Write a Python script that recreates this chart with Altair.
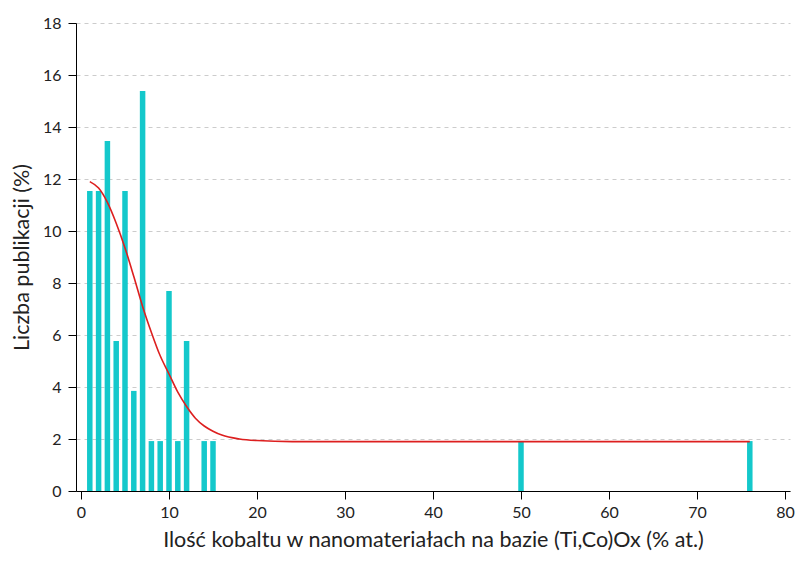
import altair as alt
import pandas as pd

# Bar data
cobalt = [1, 2, 3, 4, 5, 6, 7, 8, 9, 10, 11, 12, 14, 15, 50, 76]
share = [11.54, 11.54, 13.46, 5.77, 11.54, 3.85, 15.38, 1.92, 1.92, 7.69,
         1.92, 5.77, 1.92, 1.92, 1.92, 1.92]

# Red fit curve
curve_x = [1, 2, 3, 4, 5, 6, 7, 8, 9, 10, 11, 12, 13, 14, 15, 16, 18, 20, 24, 30, 76]
curve_y = [11.9, 11.65, 11.1, 10.3, 9.35, 8.25, 7.1, 6.1, 5.2, 4.5, 3.8, 3.25,
           2.8, 2.5, 2.3, 2.15, 2.0, 1.94, 1.9, 1.9, 1.9]

x_ticks = [0, 10, 20, 30, 40, 50, 60, 70, 80]
y_ticks = [0, 2, 4, 6, 8, 10, 12, 14, 16, 18]

bars_df = pd.DataFrame({"x": cobalt, "y": share})
curve_df = pd.DataFrame({"x": curve_x, "y": curve_y})

FONT = "Lato"

xscale = alt.Scale(domain=[0, 80], nice=False, zero=False)
yscale = alt.Scale(domain=[0, 18], nice=False)

xaxis = alt.Axis(values=x_ticks, title="Ilość kobaltu w nanomateriałach na bazie (Ti,Co)Ox (% at.)",
                 grid=False, domainColor="#000", tickColor="#000", tickSize=8,
                 labelPadding=5, labelFontSize=16, labelColor="#222", titleFontSize=21.5,
                 titleFontWeight="normal", titleColor="#222", titlePadding=9,
                 labelFont=FONT, titleFont=FONT, labelFlush=False)
yaxis = alt.Axis(values=y_ticks, title="Liczba publikacji (%)",
                 grid=True, gridDash=[4, 4], gridColor="#cccccc",
                 domainColor="#000", tickColor="#000", tickSize=8, labelPadding=7,
                 labelFontSize=16, labelColor="#222", titleFontSize=21.5,
                 titleFontWeight="normal", titleColor="#222", titlePadding=9,
                 labelFont=FONT, titleFont=FONT)

bars = alt.Chart(bars_df).mark_bar(color="#14C8CB", size=5.5).encode(
    x=alt.X("x:Q", scale=xscale, axis=xaxis),
    y=alt.Y("y:Q", scale=yscale, axis=yaxis),
)

line = alt.Chart(curve_df).mark_line(color="#DD1F1F", strokeWidth=1.6,
                                      interpolate="monotone").encode(
    x=alt.X("x:Q", scale=xscale),
    y=alt.Y("y:Q", scale=yscale),
)

chart = (bars + line).properties(
    width=714, height=468,
    autosize=alt.AutoSizeParams(type="none"),
    padding={"left": 68, "top": 15, "right": 10, "bottom": 60},
).configure_view(stroke=None)

chart.save("out.html", embed_options={"renderer": "svg", "actions": False})
